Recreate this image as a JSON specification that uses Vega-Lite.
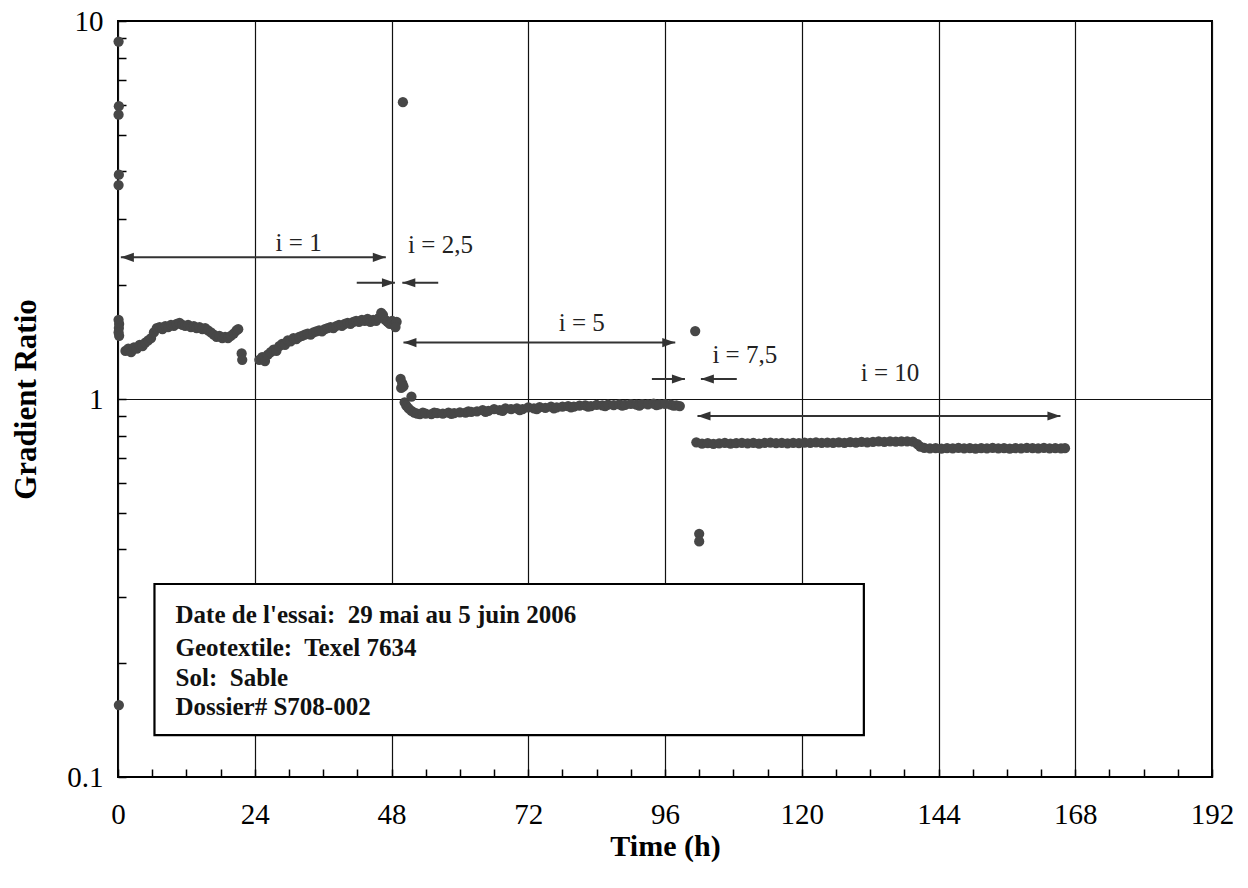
{
  "$schema": "https://vega.github.io/schema/vega-lite/v6.json",
  "width": 1094,
  "height": 756,
  "autosize": {"type": "none"},
  "padding": {"left": 118, "top": 21, "right": 36, "bottom": 111},
  "background": "white",
  "config": {
    "view": {"stroke": "black", "strokeWidth": 2},
    "font": "Liberation Serif"
  },
  "datasets": {
    "pts": [
      {"t":0.1,"v":8.82},{"t":0.15,"v":5.95},{"t":0.1,"v":5.65},{"t":0.15,"v":3.92},{"t":0.1,"v":3.68},
      {"t":0.1,"v":1.62},{"t":0.2,"v":1.58},{"t":0.15,"v":1.54},{"t":0.1,"v":1.5},{"t":0.2,"v":1.47},{"t":0.15,"v":0.155},
      {"t":1.3,"v":1.34},{"t":1.8,"v":1.36},{"t":2.3,"v":1.33},{"t":2.8,"v":1.37},{"t":3.3,"v":1.36},{"t":3.8,"v":1.39},
      {"t":4.3,"v":1.38},{"t":4.8,"v":1.41},{"t":5.3,"v":1.43},{"t":5.8,"v":1.45},{"t":6.3,"v":1.5},{"t":6.8,"v":1.54},
      {"t":7.3,"v":1.55},{"t":7.8,"v":1.53},{"t":8.3,"v":1.56},{"t":8.8,"v":1.55},{"t":9.3,"v":1.57},{"t":9.8,"v":1.56},
      {"t":10.3,"v":1.58},{"t":10.8,"v":1.59},{"t":11.3,"v":1.57},{"t":11.8,"v":1.56},{"t":12.3,"v":1.57},{"t":12.8,"v":1.55},
      {"t":13.3,"v":1.56},{"t":13.8,"v":1.54},{"t":14.3,"v":1.55},{"t":14.8,"v":1.53},{"t":15.3,"v":1.54},{"t":15.8,"v":1.52},
      {"t":16.3,"v":1.5},{"t":16.8,"v":1.48},{"t":17.3,"v":1.46},{"t":17.8,"v":1.47},{"t":18.3,"v":1.45},{"t":18.8,"v":1.46},
      {"t":19.3,"v":1.45},{"t":19.8,"v":1.47},{"t":20.3,"v":1.49},{"t":20.8,"v":1.52},{"t":21.1,"v":1.53},
      {"t":21.7,"v":1.32},{"t":21.8,"v":1.27},
      {"t":24.8,"v":1.27},{"t":25.3,"v":1.29},{"t":25.8,"v":1.26},{"t":26.3,"v":1.31},{"t":26.8,"v":1.33},{"t":27.3,"v":1.35},
      {"t":27.8,"v":1.34},{"t":28.3,"v":1.38},{"t":28.8,"v":1.4},{"t":29.3,"v":1.39},{"t":29.8,"v":1.43},{"t":30.3,"v":1.42},
      {"t":30.8,"v":1.45},{"t":31.3,"v":1.44},{"t":31.8,"v":1.46},{"t":32.3,"v":1.47},{"t":32.8,"v":1.48},{"t":33.3,"v":1.49},
      {"t":33.8,"v":1.48},{"t":34.3,"v":1.5},{"t":34.8,"v":1.51},{"t":35.3,"v":1.52},{"t":35.8,"v":1.51},{"t":36.3,"v":1.53},
      {"t":36.8,"v":1.54},{"t":37.3,"v":1.55},{"t":37.8,"v":1.54},{"t":38.3,"v":1.56},{"t":38.8,"v":1.57},{"t":39.3,"v":1.56},
      {"t":39.8,"v":1.58},{"t":40.3,"v":1.59},{"t":40.8,"v":1.58},{"t":41.3,"v":1.6},{"t":41.8,"v":1.61},{"t":42.3,"v":1.6},
      {"t":42.8,"v":1.62},{"t":43.3,"v":1.61},{"t":43.8,"v":1.63},{"t":44.3,"v":1.6},{"t":44.8,"v":1.62},{"t":45.3,"v":1.61},
      {"t":45.8,"v":1.64},{"t":46.2,"v":1.69},{"t":46.5,"v":1.67},{"t":46.9,"v":1.62},{"t":47.3,"v":1.6},{"t":47.7,"v":1.58},
      {"t":48.1,"v":1.61},{"t":48.5,"v":1.57},{"t":48.9,"v":1.6},{"t":48.7,"v":1.55},
      {"t":49.6,"v":1.13},{"t":49.7,"v":1.07},{"t":49.9,"v":1.1},{"t":50.1,"v":1.08},{"t":50.0,"v":6.1},
      {"t":50.3,"v":0.98},{"t":50.6,"v":0.96},{"t":51.0,"v":0.945},{"t":51.5,"v":1.014},{"t":51.5,"v":0.93},{"t":52.0,"v":0.92},
      {"t":52.5,"v":0.915},{"t":53,"v":0.912},{"t":53.5,"v":0.92},{"t":54,"v":0.915},{"t":55,"v":0.912},{"t":55.5,"v":0.92},{"t":56,"v":0.918},{"t":57,"v":0.915},
      {"t":58,"v":0.92},{"t":58.5,"v":0.913},{"t":59,"v":0.918},{"t":60,"v":0.922},{"t":61,"v":0.92},{"t":61.5,"v":0.928},{"t":62,"v":0.925},{"t":63,"v":0.928},
      {"t":64,"v":0.935},{"t":64.5,"v":0.925},{"t":65,"v":0.93},{"t":66,"v":0.94},{"t":67,"v":0.935},{"t":67.5,"v":0.93},{"t":68,"v":0.945},{"t":69,"v":0.94},
      {"t":70,"v":0.945},{"t":70.5,"v":0.935},{"t":71,"v":0.94},{"t":72,"v":0.95},{"t":73,"v":0.945},{"t":73.5,"v":0.94},{"t":74,"v":0.952},{"t":75,"v":0.948},
      {"t":76,"v":0.955},{"t":76.5,"v":0.945},{"t":77,"v":0.95},{"t":78,"v":0.955},{"t":79,"v":0.958},{"t":79.5,"v":0.95},{"t":80,"v":0.955},{"t":81,"v":0.96},
      {"t":82,"v":0.962},{"t":82.5,"v":0.955},{"t":83,"v":0.958},{"t":84,"v":0.965},{"t":85,"v":0.962},{"t":85.5,"v":0.957},{"t":86,"v":0.966},{"t":87,"v":0.964},
      {"t":88,"v":0.968},{"t":88.5,"v":0.96},{"t":89,"v":0.965},{"t":90,"v":0.97},{"t":91,"v":0.967},{"t":91.5,"v":0.961},{"t":92,"v":0.97},{"t":93,"v":0.968},
      {"t":94,"v":0.972},{"t":94.5,"v":0.963},{"t":95,"v":0.968},{"t":96,"v":0.97},{"t":97,"v":0.966},{"t":97.5,"v":0.96},{"t":98,"v":0.962},{"t":98.6,"v":0.958},
      {"t":101.3,"v":1.513},{"t":102.0,"v":0.44},{"t":102.0,"v":0.42},
      {"t":101.5,"v":0.768},{"t":102.5,"v":0.762},{"t":103.5,"v":0.764},{"t":104.5,"v":0.761},{"t":105.5,"v":0.763},
      {"t":106.5,"v":0.765},{"t":107.5,"v":0.762},{"t":108.5,"v":0.764},{"t":109.5,"v":0.766},{"t":110.5,"v":0.763},
      {"t":111.5,"v":0.765},{"t":112.5,"v":0.762},{"t":113.5,"v":0.765},{"t":114.5,"v":0.767},{"t":115.5,"v":0.764},
      {"t":116.5,"v":0.766},{"t":117.5,"v":0.763},{"t":118.5,"v":0.766},{"t":119.5,"v":0.764},{"t":120.5,"v":0.767},
      {"t":121.5,"v":0.765},{"t":122.5,"v":0.768},{"t":123.5,"v":0.765},{"t":124.5,"v":0.767},{"t":125.5,"v":0.765},
      {"t":126.5,"v":0.768},{"t":127.5,"v":0.766},{"t":128.5,"v":0.769},{"t":129.5,"v":0.767},{"t":130.5,"v":0.77},
      {"t":131.5,"v":0.768},{"t":132.5,"v":0.77},{"t":133.5,"v":0.772},{"t":134.5,"v":0.77},{"t":135.5,"v":0.773},
      {"t":136.5,"v":0.771},{"t":137.5,"v":0.773},{"t":138.5,"v":0.772},{"t":139.5,"v":0.771},{"t":140.3,"v":0.76},
      {"t":140.8,"v":0.748},{"t":141.5,"v":0.742},{"t":142.5,"v":0.74},{"t":143.5,"v":0.741},{"t":144.5,"v":0.739},
      {"t":145.5,"v":0.741},{"t":146.5,"v":0.74},{"t":147.5,"v":0.742},{"t":148.5,"v":0.74},{"t":149.5,"v":0.741},
      {"t":150.5,"v":0.739},{"t":151.5,"v":0.741},{"t":152.5,"v":0.74},{"t":153.5,"v":0.742},{"t":154.5,"v":0.74},
      {"t":155.5,"v":0.741},{"t":156.5,"v":0.739},{"t":157.5,"v":0.741},{"t":158.5,"v":0.74},{"t":159.5,"v":0.742},
      {"t":160.5,"v":0.741},{"t":161.5,"v":0.74},{"t":162.5,"v":0.742},{"t":163.5,"v":0.74},{"t":164.5,"v":0.741},
      {"t":165.5,"v":0.74},{"t":166.2,"v":0.741}
    ],
    "arrows": [
      {"t":0.5,"t2":47.0,"v":2.37},
      {"t":41.9,"t2":48.6,"v":2.03},
      {"t":49.9,"t2":56.2,"v":2.03},
      {"t":50.1,"t2":97.8,"v":1.41},
      {"t":93.7,"t2":99.5,"v":1.13},
      {"t":102.3,"t2":108.6,"v":1.13},
      {"t":101.7,"t2":165.4,"v":0.902}
    ],
    "heads": [
      {"t":0.5,"v":2.37,"dir":"l"},{"t":47.0,"v":2.37,"dir":"r"},
      {"t":48.6,"v":2.03,"dir":"r"},{"t":49.9,"v":2.03,"dir":"l"},
      {"t":50.1,"v":1.41,"dir":"l"},{"t":97.8,"v":1.41,"dir":"r"},
      {"t":99.5,"v":1.13,"dir":"r"},{"t":102.3,"v":1.13,"dir":"l"},
      {"t":101.7,"v":0.902,"dir":"l"},{"t":165.4,"v":0.902,"dir":"r"}
    ],
    "labels": [
      {"t":31.7,"v":2.58,"label":"i = 1"},
      {"t":56.6,"v":2.556,"label":"i = 2,5"},
      {"t":81.4,"v":1.586,"label":"i = 5"},
      {"t":110.0,"v":1.307,"label":"i = 7,5"},
      {"t":135.5,"v":1.169,"label":"i = 10"}
    ],
    "box": [
      {"t":6.4,"t2":130.9,"v":0.324,"v2":0.129}
    ],
    "boxtext": [
      {"t":10.1,"v":0.268,"label":"Date de l'essai:\u00a0 29 mai au 5 juin 2006"},
      {"t":10.1,"v":0.2195,"label":"Geotextile:\u00a0 Texel 7634"},
      {"t":10.1,"v":0.1827,"label":"Sol:\u00a0 Sable"},
      {"t":10.1,"v":0.1532,"label":"Dossier# S708-002"}
    ]
  },
  "encoding": {
    "x": {
      "field": "t",
      "type": "quantitative",
      "scale": {"domain": [0, 192], "nice": false, "zero": false},
      "axis": {
        "title": "Time (h)",
        "values": [0,6,12,18,24,30,36,42,48,54,60,66,72,78,84,90,96,102,108,114,120,126,132,138,144,150,156,162,168,174,180,186,192],
        "labelExpr": "datum.value % 24 === 0 ? datum.label : ''",
        "domain": false,
        "grid": true,
        "gridColor": "#111111",
        "gridWidth": 1.2,
        "gridOpacity": {"condition": {"test": "datum.value % 24 === 0", "value": 1}, "value": 0},
        "ticks": true,
        "tickSize": -8,
        "tickColor": "black",
        "tickWidth": 1.5,
        "labelPadding": 31,
        "labelFont": "Liberation Serif",
        "labelFontSize": 29,
        "labelColor": "black",
        "labelFlush": false,
        "labelOverlap": false,
        "labelBound": false,
        "titleFont": "Liberation Serif",
        "titleFontSize": 30,
        "titleFontWeight": "bold",
        "titleColor": "black",
        "titlePadding": 2
      }
    },
    "y": {
      "field": "v",
      "type": "quantitative",
      "scale": {"type": "log", "domain": [0.1, 10], "nice": false},
      "axis": {
        "title": "Gradient Ratio",
        "values": [0.1,0.2,0.3,0.4,0.5,0.6,0.7,0.8,0.9,1,2,3,4,5,6,7,8,9,10],
        "format": "~g",
        "labelExpr": "(datum.value === 0.1 || datum.value === 1 || datum.value === 10) ? datum.label : ''",
        "domain": false,
        "grid": true,
        "gridColor": "#111111",
        "gridWidth": 1.2,
        "gridOpacity": {"condition": {"test": "datum.value === 1", "value": 1}, "value": 0},
        "ticks": true,
        "tickSize": -8,
        "tickColor": "black",
        "tickWidth": 1.5,
        "labelPadding": 23,
        "labelFont": "Liberation Serif",
        "labelFontSize": 29,
        "labelColor": "black",
        "labelFlush": false,
        "labelOverlap": false,
        "labelBound": false,
        "titleFont": "Liberation Serif",
        "titleFontSize": 31,
        "titleFontWeight": "bold",
        "titleColor": "black",
        "titlePadding": 24
      }
    }
  },
  "layer": [
    {
      "data": {"name": "box"},
      "mark": {"type": "rect", "fill": "white", "stroke": "black", "strokeWidth": 2.2},
      "encoding": {
        "x2": {"field": "t2"},
        "y2": {"field": "v2"}
      }
    },
    {
      "data": {"name": "pts"},
      "mark": {"type": "point", "filled": true, "shape": "circle", "size": 105, "color": "#474747", "opacity": 1}
    },
    {
      "data": {"name": "arrows"},
      "mark": {"type": "rule", "color": "#333333", "strokeWidth": 2},
      "encoding": {
        "x2": {"field": "t2"}
      }
    },
    {
      "data": {"name": "heads"},
      "mark": {"type": "point", "filled": true, "size": 169, "color": "#333333", "opacity": 1},
      "encoding": {
        "shape": {
          "field": "dir",
          "type": "nominal",
          "scale": {"domain": ["r", "l"], "range": ["M0,0L-2,-0.7L-2,0.7Z", "M0,0L2,-0.7L2,0.7Z"]},
          "legend": null
        }
      }
    },
    {
      "data": {"name": "labels"},
      "mark": {"type": "text", "font": "Liberation Serif", "fontSize": 25, "color": "#222222", "align": "center", "baseline": "middle"},
      "encoding": {
        "text": {"field": "label"}
      }
    },
    {
      "data": {"name": "boxtext"},
      "mark": {"type": "text", "font": "Liberation Serif", "fontSize": 25, "fontWeight": "bold", "color": "#111111", "align": "left", "baseline": "middle"},
      "encoding": {
        "text": {"field": "label"}
      }
    }
  ]
}
